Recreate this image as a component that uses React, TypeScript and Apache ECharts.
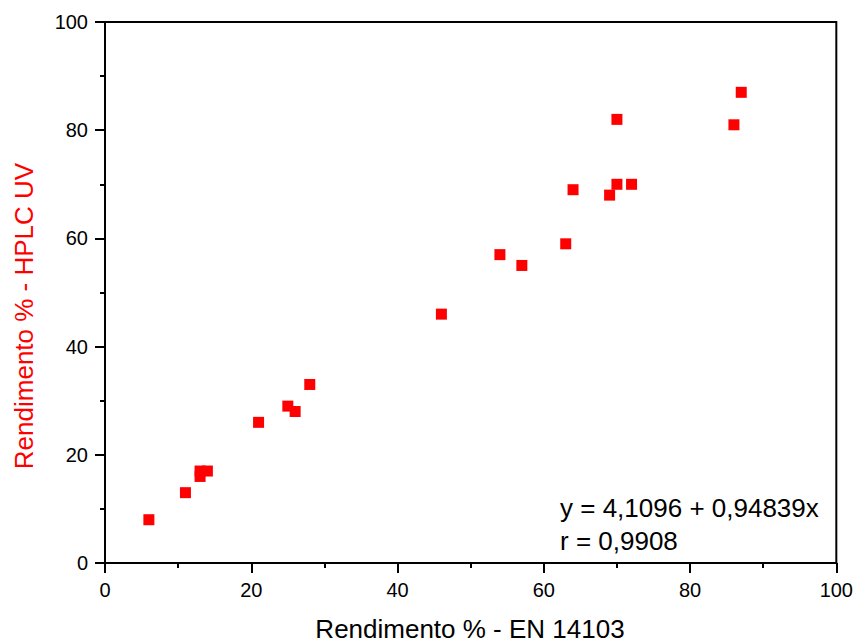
import React, { useEffect, useRef } from "react";
import * as echarts from "echarts";

const xValues = [6, 11, 13, 13, 14, 21, 25, 26, 28, 46, 54, 57, 63, 64, 69, 70, 70, 72, 86, 87];
const yValues = [8, 13, 17, 16, 17, 26, 29, 28, 33, 46, 57, 55, 59, 69, 68, 70, 82, 70, 81, 87];
const xTicks = [0, 20, 40, 60, 80, 100];
const yTicks = [0, 20, 40, 60, 80, 100];
const xTitle = "Rendimento % - EN 14103";
const yTitle = "Rendimento % - HPLC UV";
const fitLines = ["y = 4,1096 + 0,94839x", "r = 0,9908"];

const FONT = "'Liberation Sans', Arial, Helvetica, sans-serif";

export default function App() {
  const ref = useRef<HTMLDivElement>(null);
  useEffect(() => {
    if (!ref.current) return;
    const chart = echarts.init(ref.current, null, { renderer: "svg" });
    const points = xValues.map((x, i) => [x, yValues[i]]);
    chart.setOption({
      animation: false,
      backgroundColor: "#ffffff",
      grid: {
        left: 105,
        right: 19,
        top: 22,
        bottom: 80,
        show: true,
        borderColor: "#000000",
        borderWidth: 2,
        backgroundColor: "transparent",
      },
      xAxis: {
        type: "value",
        min: xTicks[0],
        max: xTicks[xTicks.length - 1],
        interval: 20,
        axisLine: { show: true, onZero: false, lineStyle: { color: "#000", width: 2 } },
        axisTick: { show: true, inside: false, length: 10, lineStyle: { color: "#000", width: 2 } },
        minorTick: { show: true, splitNumber: 2, length: 5, lineStyle: { color: "#000", width: 2 } },
        splitLine: { show: false },
        axisLabel: { color: "#000", fontSize: 20, fontFamily: FONT, margin: 17 },
      },
      yAxis: {
        type: "value",
        min: yTicks[0],
        max: yTicks[yTicks.length - 1],
        interval: 20,
        axisLine: { show: true, onZero: false, lineStyle: { color: "#000", width: 2 } },
        axisTick: { show: true, inside: false, length: 10, lineStyle: { color: "#000", width: 2 } },
        minorTick: { show: true, splitNumber: 2, length: 5, lineStyle: { color: "#000", width: 2 } },
        splitLine: { show: false },
        axisLabel: { color: "#000", fontSize: 20, fontFamily: FONT, margin: 17 },
      },
      series: [
        {
          type: "scatter",
          data: points,
          symbol: "rect",
          symbolSize: 11,
          itemStyle: { color: "#ff0000", opacity: 1 },
        },
      ],
      graphic: [
        {
          type: "text",
          x: 470,
          y: 629,
          style: {
            text: xTitle,
            fill: "#000",
            font: `26px ${FONT}`,
            align: "center",
            verticalAlign: "middle",
          },
        },
        {
          type: "text",
          x: 24,
          y: 316,
          rotation: Math.PI / 2,
          style: {
            text: yTitle,
            fill: "#ff0000",
            font: `26px ${FONT}`,
            align: "center",
            verticalAlign: "middle",
          },
        },
        {
          type: "text",
          x: 560,
          y: 508,
          style: {
            text: fitLines[0],
            fill: "#000",
            font: `26px ${FONT}`,
            align: "left",
            verticalAlign: "middle",
          },
        },
        {
          type: "text",
          x: 560,
          y: 541,
          style: {
            text: fitLines[1],
            fill: "#000",
            font: `26px ${FONT}`,
            align: "left",
            verticalAlign: "middle",
          },
        },
      ],
    });
    return () => chart.dispose();
  }, []);
  return (
    <div
      ref={ref}
      style={{ position: "absolute", left: 0, top: 0, width: 856, height: 643 }}
    />
  );
}
